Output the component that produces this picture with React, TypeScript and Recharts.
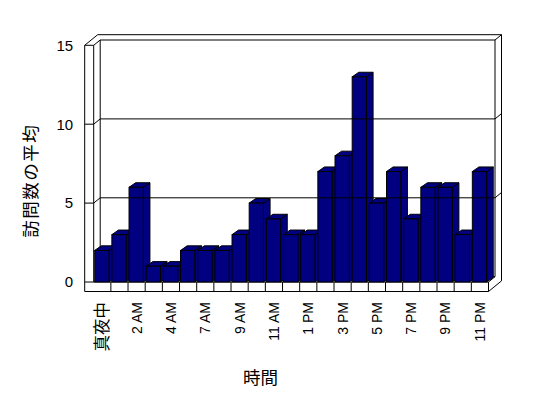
import React from 'react';
import { BarChart, Bar, XAxis, YAxis, ReferenceArea, ReferenceLine } from 'recharts';

const categories = ['真夜中', '1 AM', '2 AM', '3 AM', '4 AM', '5 AM', '7 AM', '8 AM', '9 AM', '10 AM', '11 AM', '12 PM', '1 PM', '2 PM', '3 PM', '4 PM', '5 PM', '6 PM', '7 PM', '8 PM', '9 PM', '10 PM', '11 PM'];
const visits = [2, 3, 6, 1, 1, 2, 2, 2, 3, 5, 4, 3, 3, 7, 8, 13, 5, 7, 4, 6, 6, 3, 7];
const yTicks = [0, 5, 10, 15];
const gridValues = [5, 10];

const data = categories.map((c, i) => ({ name: c, value: visits[i] }));

const WDX = 6.5;
const WDY = 5.3;
const WALL = 9;
const FLOOR = 9.5;
const BDX = 6.6;
const BDY = 4.6;
const NAVY = '#000080';

const Frame = (props: any) => {
  const { x, y, width, height } = props;
  const L = x - WALL;
  const B = y + height;
  const FB = B + FLOOR;
  const R = x + width;
  const bw = width / categories.length;
  const seps = [];
  for (let k = 1; k < categories.length; k++) {
    seps.push(<line key={k} x1={x + k * bw} y1={B} x2={x + k * bw} y2={FB} stroke="#000" strokeWidth={1} />);
  }
  return (
    <g>
      <path
        d={`M${L},${y} L${L},${FB} L${R},${FB} L${R + 2 * WDX},${FB - 2 * WDY} L${R + 2 * WDX},${y - 2 * WDY} L${L + 2 * WDX},${y - 2 * WDY} Z`}
        fill="#fff"
        stroke="#000"
        strokeWidth={1}
      />
      <path
        d={`M${L},${y} H${x} V${B} M${L},${B} H${R} V${FB} M${x},${y} L${x + WDX},${y - WDY} H${R + WDX} L${R + 2 * WDX},${y - 2 * WDY} M${x + WDX},${y - WDY} V${B - WDY} H${R + WDX} V${y - WDY} M${R},${B} L${R + WDX},${B - WDY}`}
        fill="none"
        stroke="#000"
        strokeWidth={1}
      />
      {seps}
    </g>
  );
};

const GridLine = (props: any) => {
  const { x1, y1, x2 } = props;
  return (
    <path
      d={`M${x1 - WALL},${y1} H${x1} L${x1 + WDX},${y1 - WDY} H${x2 + WDX} L${x2 + 2 * WDX},${y1 - 2 * WDY}`}
      fill="none"
      stroke="#000"
      strokeWidth={1}
    />
  );
};

const Bar3D = (props: any) => {
  const { x, y, width, height } = props;
  if (width == null || height == null) return null;
  const r = x + width;
  const b = y + height;
  return (
    <g>
      <path d={`M${r},${y} L${r + BDX},${y - BDY} V${b - BDY} L${r},${b} Z`} fill={NAVY} stroke="#000" strokeWidth={1} />
      <path d={`M${x},${y} L${x + BDX},${y - BDY} H${r + BDX} L${r},${y} Z`} fill={NAVY} stroke="#000" strokeWidth={1} />
      <rect x={x} y={y} width={width} height={height} fill={NAVY} stroke="#000" strokeWidth={1} />
    </g>
  );
};

const XTick = (props: any) => {
  const { x, y, payload } = props;
  const label = String(payload.value);
  const cjk = /[^\x00-\x7F]/.test(label);
  return (
    <g transform={`translate(${x},${y})`}>
      <text
        transform="rotate(-90)"
        x={0}
        y={0}
        dy="0.35em"
        textAnchor="end"
        fill="#000"
        fontSize={cjk ? 16.5 : 14}
        fontFamily={cjk ? "'Noto Sans CJK JP', sans-serif" : "'Liberation Sans', Arial, sans-serif"}
      >
        {label}
      </text>
    </g>
  );
};

const YTitle = (props: any) => {
  const vb = props.viewBox || { x: 0, y: 45, width: 94, height: 237 };
  const cx = vb.x + 29.5;
  const cy = vb.y + vb.height / 2 + 17;
  return (
    <text
      x={cx}
      y={cy}
      transform={`rotate(-90, ${cx}, ${cy})`}
      textAnchor="middle"
      dominantBaseline="central"
      fontSize={17.5}
      letterSpacing={1.5}
      fontFamily="'Noto Sans CJK JP', sans-serif"
      fill="#000"
    >
      訪問数の平均
    </text>
  );
};

const XTitle = (props: any) => {
  const vb = props.viewBox || { x: 94, y: 282, width: 394.5, height: 116 };
  const cx = vb.x + vb.width / 2 - 30.7;
  const cy = vb.y + 94.5;
  return (
    <text
      x={cx}
      y={cy}
      textAnchor="middle"
      dominantBaseline="central"
      fontSize={17.5}
      fontFamily="'Noto Sans CJK JP', sans-serif"
      fill="#000"
    >
      時間
    </text>
  );
};

export default function App() {
  return (
    <div style={{ position: 'absolute', left: 0, top: 0, width: 548, height: 398, background: '#fff' }}>
      <BarChart
        width={548}
        height={398}
        data={data}
        margin={{ top: 45.3, right: 59.5, bottom: 0, left: 0 }}
        barSize={14.3}
      >
        <XAxis
          dataKey="name"
          interval={1}
          axisLine={false}
          tickLine={false}
          tickSize={0}
          tickMargin={20}
          height={116}
          tick={<XTick />}
          label={(p: any) => <XTitle {...p} />}
        />
        <YAxis
          domain={[0, 15]}
          ticks={yTicks}
          axisLine={false}
          tickLine={false}
          tickSize={0}
          tickMargin={20.5}
          width={93.7}
          tick={{ fill: '#000', fontSize: 15, fontFamily: "'Liberation Sans', Arial, sans-serif" }}
          label={(p: any) => <YTitle {...p} />}
        />
        <ReferenceArea y1={0} y2={15} shape={(p: any) => <Frame {...p} />} ifOverflow="visible" />
        {gridValues.map((v) => (
          <ReferenceLine key={v} y={v} shape={(p: any) => <GridLine {...p} />} />
        ))}
        <Bar dataKey="value" isAnimationActive={false} shape={(p: any) => <Bar3D {...p} />} />
      </BarChart>
    </div>
  );
}
